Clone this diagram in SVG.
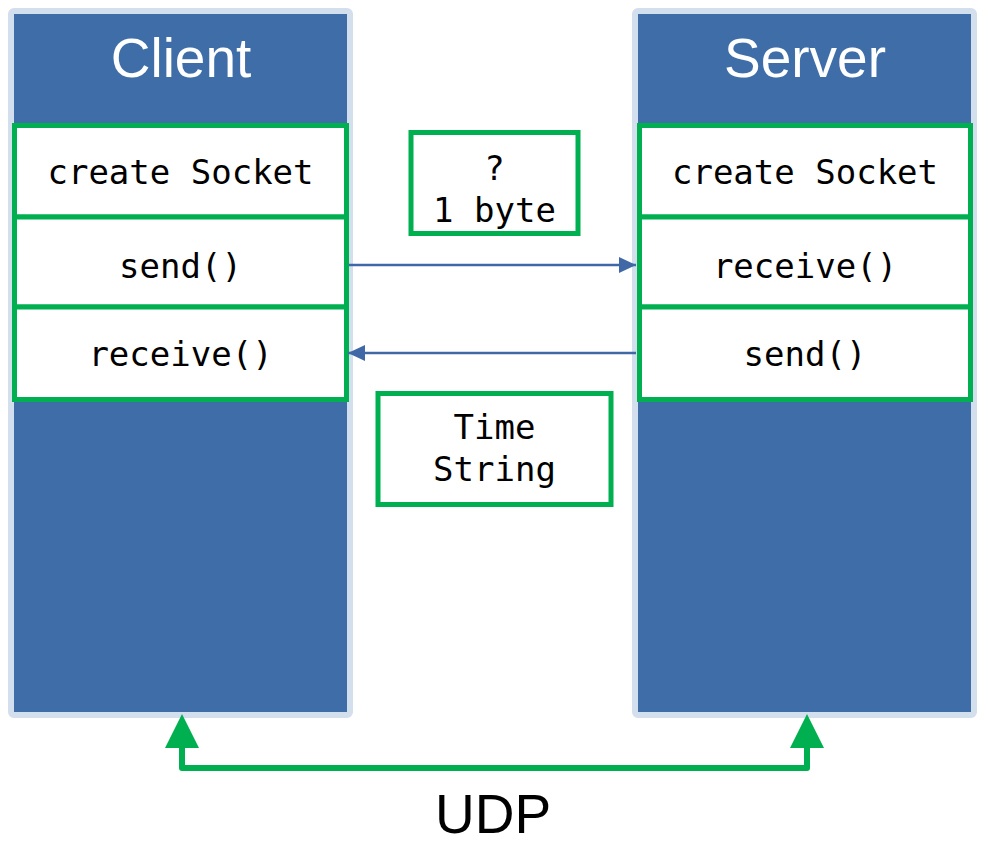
<svg xmlns="http://www.w3.org/2000/svg" width="988" height="852" viewBox="0 0 988 852">
<style>
.panel{fill:#3F6DA7;stroke:#D4DFEE;stroke-width:6}
.title{font-family:"Liberation Sans",Arial,sans-serif;font-size:55px;fill:#FFFFFF;text-anchor:middle}
.step{fill:#FFFFFF;stroke:#00B050;stroke-width:5}
.mono{font-family:"DejaVu Sans Mono","Liberation Mono",monospace;font-size:34px;fill:#000000;text-anchor:middle}
.msg{stroke:#4068A6;stroke-width:2.5;fill:none}
.udp{stroke:#00B050;stroke-width:6;fill:none;stroke-linejoin:round;stroke-linecap:round}
</style>
<defs>
<marker id="blueArrow" viewBox="0 0 17 16" refX="17" refY="8" markerWidth="17" markerHeight="16" markerUnits="userSpaceOnUse" orient="auto">
<path d="M0,0 L17,8 L0,16 Z" fill="#4068A6"/>
</marker>
</defs>
<g id="client">
<rect class="panel" x="11" y="11" width="339" height="704" rx="3"/>
<text class="title" x="181" y="77">Client</text>
</g>
<g id="server">
<rect class="panel" x="635" y="11" width="339" height="704" rx="3"/>
<text class="title" x="805" y="77">Server</text>
</g>
<g id="client-create-socket">
<rect class="step" x="14.5" y="125.5" width="332" height="91.5"/>
<text class="mono" x="180.5" y="184">create Socket</text>
</g>
<g id="client-send">
<rect class="step" x="14.5" y="217" width="332" height="90"/>
<text class="mono" x="180.5" y="278">send()</text>
</g>
<g id="client-receive">
<rect class="step" x="14.5" y="307" width="332" height="92.5"/>
<text class="mono" x="180.5" y="366">receive()</text>
</g>
<g id="server-create-socket">
<rect class="step" x="639.5" y="125.5" width="331" height="91.5"/>
<text class="mono" x="805" y="184">create Socket</text>
</g>
<g id="server-receive">
<rect class="step" x="639.5" y="217" width="331" height="90"/>
<text class="mono" x="805" y="278">receive()</text>
</g>
<g id="server-send">
<rect class="step" x="639.5" y="307" width="331" height="92.5"/>
<text class="mono" x="805" y="366">send()</text>
</g>
<g id="request-label">
<rect class="step" x="411" y="132.5" width="167" height="101"/>
<text class="mono" x="494.5" y="180">?</text>
<text class="mono" x="494.5" y="222">1 byte</text>
</g>
<g id="response-label">
<rect class="step" x="378" y="393.5" width="233" height="111"/>
<text class="mono" x="494.5" y="439">Time</text>
<text class="mono" x="494.5" y="481">String</text>
</g>
<g id="connectors">
<line class="msg" x1="349" y1="265" x2="636" y2="265" marker-end="url(#blueArrow)"/>
<line class="msg" x1="636" y1="353" x2="348" y2="353" marker-end="url(#blueArrow)"/>
<path class="udp" d="M182,745 L182,768 L807,768 L807,745"/>
<polygon points="182,714 165,748 199,748" fill="#00B050"/>
<polygon points="807,714 790,748 824,748" fill="#00B050"/>
</g>
<text x="493" y="833" font-family="Liberation Sans,Arial,sans-serif" font-size="55" fill="#000000" text-anchor="middle">UDP</text>
</svg>
